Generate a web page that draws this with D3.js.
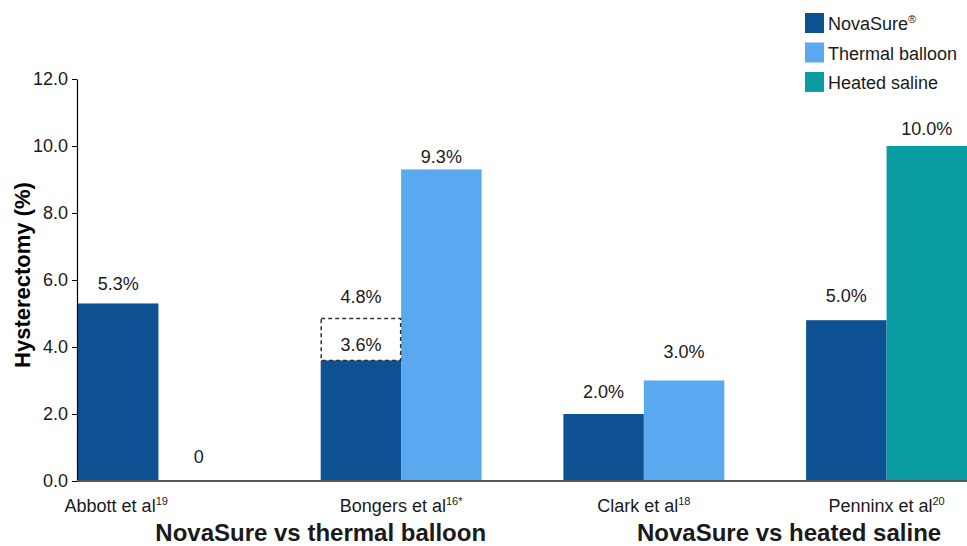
<!DOCTYPE html>
<html>
<head>
<meta charset="utf-8">
<script src="https://cdn.jsdelivr.net/npm/d3@7"></script>
<style>
  body { margin: 0; background: #fff; }
  text { font-family: Arial, "Liberation Sans", sans-serif; fill: #1a1a1a; }
</style>
</head>
<body>
<div id="chart-area"></div>
<script>
// data
var studies = ["Abbott et al", "Bongers et al", "Clark et al", "Penninx et al"]
var studyRefs = ["19", "16*", "18", "20"]
var seriesNames = ["NovaSure", "Thermal balloon", "Heated saline"]
// each study: [series index, bar value, label text, label anchor value]
var abbottBars = [[0, 5.3, "5.3%", 5.70], [1, 0, "0", 0.55]]
var bongersBars = [[0, 3.6, "3.6%", 3.89], [1, 9.3, "9.3%", 9.50]]
var clarkBars = [[0, 2.0, "2.0%", 2.48], [1, 3.0, "3.0%", 3.67]]
var penninxBars = [[0, 4.8, "5.0%", 5.35], [2, 10.0, "10.0%", 10.33]]
var bongersRange = [3.6, 4.85]        // dashed box
var bongersRangeLabel = ["4.8%", 5.32]
var yTicks = [0, 2, 4, 6, 8, 10, 12]
var groupTitles = ["NovaSure vs thermal balloon", "NovaSure vs heated saline"]

var colors = ["#0e5294", "#59a8f0", "#099ca2"]

var width = 967, height = 546
var margin = {top: 79, left: 77, bottom: 65}

var svg = d3.select("#chart-area").append("svg")
  .attr("width", width).attr("height", height)

var allBars = [abbottBars, bongersBars, clarkBars, penninxBars]

var x = d3.scaleBand().domain(studies).range([margin.left + 1, width]).paddingInner(0.337).paddingOuter(0)
var xSub = d3.scaleBand().domain([0, 1]).range([0, x.bandwidth()])
var y = d3.scaleLinear().domain([0, 12]).range([height - margin.bottom, margin.top])

// bars
var g = svg.append("g")
allBars.forEach(function(bars, i) {
  var gx = x(studies[i])
  g.selectAll(".bar" + i).data(bars).enter().append("rect")
    .attr("x", function(d, j) { return gx + xSub(j) })
    .attr("y", function(d) { return y(d[1]) })
    .attr("width", xSub.bandwidth())
    .attr("height", function(d) { return y(0) - y(d[1]) })
    .attr("fill", function(d) { return colors[d[0]] })
  g.selectAll(".lab" + i).data(bars).enter().append("text")
    .attr("x", function(d, j) { return gx + xSub(j) + xSub.bandwidth() / 2 })
    .attr("y", function(d) { return y(d[3]) })
    .attr("text-anchor", "middle")
    .attr("font-size", "18px")
    .text(function(d) { return d[2] })
})

// dashed range box on Bongers NovaSure
var bx = x("Bongers et al") + xSub(0)
g.append("rect")
  .attr("x", bx + 0.5)
  .attr("y", y(bongersRange[1]))
  .attr("width", xSub.bandwidth() - 1)
  .attr("height", y(bongersRange[0]) - y(bongersRange[1]))
  .attr("fill", "none")
  .attr("stroke", "#333")
  .attr("stroke-width", 1.5)
  .attr("stroke-dasharray", "4,3")
g.append("text")
  .attr("x", bx + xSub.bandwidth() / 2)
  .attr("y", y(bongersRangeLabel[1]))
  .attr("text-anchor", "middle")
  .attr("font-size", "18px")
  .text(bongersRangeLabel[0])

// y axis
var leftAxis = d3.axisLeft(y).tickValues(yTicks).tickSize(5).tickSizeOuter(0).tickFormat(d3.format(".1f"))
var ya = svg.append("g")
  .attr("transform", `translate(${margin.left}, 0)`)
  .call(leftAxis)
ya.select(".domain").attr("stroke", "#000").attr("stroke-width", 1.2)
ya.selectAll(".tick line").attr("stroke", "#000")
ya.selectAll(".tick text").attr("font-size", "18px").attr("font-family", "Arial, 'Liberation Sans', sans-serif")
  .attr("fill", "#1a1a1a").attr("x", -9)

// x axis line
svg.append("line")
  .attr("x1", margin.left).attr("x2", width)
  .attr("y1", y(0)).attr("y2", y(0))
  .attr("stroke", "#555").attr("stroke-width", 2)

// study labels
svg.selectAll(".study").data(studies).enter().append("text")
  .attr("class", "study")
  .attr("x", function(d, i) {
    return i === 0 ? x(d) + xSub(0) + xSub.bandwidth() / 2 - 2 : x(d) + x.bandwidth() / 2
  })
  .attr("y", 512)
  .attr("text-anchor", "middle")
  .attr("font-size", "18px")
  .each(function(d, i) {
    var t = d3.select(this)
    t.append("tspan").text(d)
    t.append("tspan").attr("font-size", "11px").attr("dy", -7).text(studyRefs[i])
  })

// group titles
svg.selectAll(".grp").data(groupTitles).enter().append("text")
  .attr("x", function(d, i) { return i === 0 ? x(studies[1]) : x(studies[3]) - 17 })
  .attr("y", 541)
  .attr("text-anchor", "middle")
  .attr("font-size", "24px")
  .attr("font-weight", "bold")
  .attr("fill", "#000")
  .text(function(d) { return d })

// y title
svg.append("text")
  .attr("transform", "translate(30, 275) rotate(-90)")
  .attr("text-anchor", "middle")
  .attr("font-size", "22px")
  .attr("font-weight", "bold")
  .style("fill", "#000")
  .text("Hysterectomy (%)")

// legend
var legend = svg.append("g").attr("transform", "translate(805, 13)")
var items = legend.selectAll("g").data(seriesNames).enter().append("g")
  .attr("transform", function(d, i) { return `translate(0, ${i * 29.5})` })
items.append("rect").attr("width", 19).attr("height", 20)
  .attr("fill", function(d, i) { return colors[i] })
items.append("text").attr("x", 23).attr("y", 17).attr("font-size", "18px")
  .each(function(d, i) {
    var t = d3.select(this)
    t.append("tspan").text(d)
    if (i === 0) t.append("tspan").attr("font-size", "11px").attr("dy", -7).text("®")
  })
</script>
</body>
</html>
